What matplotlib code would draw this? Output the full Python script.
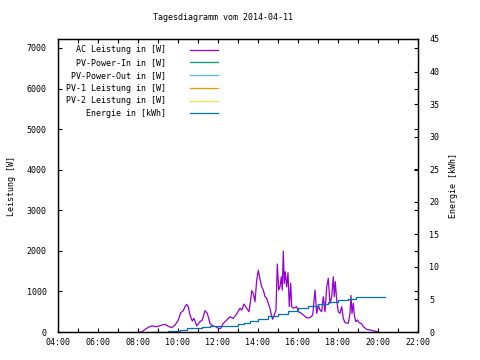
import matplotlib
matplotlib.use("Agg")
import matplotlib.pyplot as plt
from matplotlib.ticker import MultipleLocator, FuncFormatter

plt.rcParams["font.family"] = ["DejaVu Sans Mono"]
plt.rcParams["font.size"] = 6

# AC Leistung (hours of day, watts)
ac_hours = [8.015, 8.185, 8.35, 8.515, 8.685, 8.935, 9.185, 9.35, 9.515, 9.685,
            9.85, 10.015, 10.135, 10.265, 10.35, 10.435, 10.515, 10.6, 10.715, 10.8,
            10.935, 11.1, 11.215, 11.35, 11.465, 11.6, 11.735, 11.9, 12.015, 12.135,
            12.265, 12.435, 12.6, 12.765, 12.935, 13.1, 13.185, 13.3, 13.435, 13.55,
            13.635, 13.685, 13.765, 13.85, 13.935, 14.015, 14.1, 14.185, 14.265, 14.35,
            14.435, 14.515, 14.6, 14.685, 14.735, 14.815, 14.9, 14.965, 15.035, 15.1,
            15.165, 15.215, 15.265, 15.315, 15.365, 15.435, 15.5, 15.565, 15.635, 15.685,
            15.765, 15.935, 16.015, 16.135, 16.265, 16.435, 16.6, 16.735, 16.85, 16.935,
            17.015, 17.1, 17.185, 17.265, 17.35, 17.435, 17.515, 17.6, 17.685, 17.765,
            17.815, 17.865, 17.935, 18.015, 18.1, 18.185, 18.265, 18.35, 18.515, 18.6,
            18.65, 18.7, 18.765, 18.815, 18.885, 18.965, 19.065, 19.185, 19.265, 19.435,
            19.6, 19.765, 19.935, 20.015]
ac_watts = [0, 0, 65, 115, 150, 130, 170, 190, 140, 105,
            170, 295, 475, 525, 625, 680, 625, 420, 270, 335,
            150, 255, 295, 525, 460, 215, 150, 130, 90, 90,
            215, 295, 375, 335, 445, 585, 540, 690, 585, 500,
            790, 1020, 950, 745, 1280, 1520, 1300, 1115, 1035, 870,
            830, 705, 585, 375, 315, 420, 540, 1675, 1035, 1115,
            1360, 1035, 1990, 1200, 1485, 1115, 1460, 625, 1200, 625,
            585, 625, 500, 475, 420, 350, 350, 420, 1035, 460,
            665, 540, 500, 870, 500, 1115, 1320, 705, 870, 1360,
            870, 1240, 790, 500, 460, 625, 335, 230, 215, 460,
            900, 460, 705, 420, 255, 295, 230, 200, 130, 65,
            50, 30, 10, 0]

# Energie (hours of day, kWh)
energy_hours = [8.75, 9.5, 10.1, 10.45, 11.2, 11.6, 12.5, 13.0, 13.3, 13.6,
                14.0, 14.5, 15.0, 15.5, 16.0, 16.5, 17.0, 17.5, 18.0, 18.5,
                18.9, 20.35]
energy_kwh = [0.0, 0.15, 0.3, 0.55, 0.72, 0.92, 0.97, 1.2, 1.4, 1.7,
              2.0, 2.4, 2.8, 3.3, 3.7, 3.95, 4.25, 4.55, 4.85, 5.1,
              5.4, 5.45]

# series without data on this day (only shown in the legend)
pv_in_hours, pv_in_watts = [], []
pv_out_hours, pv_out_watts = [], []
pv1_hours, pv1_watts = [], []
pv2_hours, pv2_watts = [], []

fig = plt.figure(figsize=(4.8, 3.6), dpi=100)
ax = fig.add_axes([58 / 480, 1 - 332 / 360, 360 / 480, 293 / 360])
ax2 = ax.twinx()

lw = 0.9
l1, = ax.plot(ac_hours, ac_watts, color="#9400d3", lw=lw, label="AC Leistung in [W]")
l2, = ax.plot(pv_in_hours, pv_in_watts, color="#009e73", lw=lw, label="PV-Power-In in [W]")
l3, = ax.plot(pv_out_hours, pv_out_watts, color="#56b4e9", lw=lw, label="PV-Power-Out in [W]")
l4, = ax.plot(pv1_hours, pv1_watts, color="#e69f00", lw=lw, label="PV-1 Leistung in [W]")
l5, = ax.plot(pv2_hours, pv2_watts, color="#f0e442", lw=lw, label="PV-2 Leistung in [W]")
l6, = ax2.plot(energy_hours, energy_kwh, color="#0072b2", lw=lw, drawstyle="steps-post",
               label="Energie in [kWh]")

ax.set_xlim(4, 22)
ax.set_ylim(0, 7220)
ax2.set_ylim(0, 45)

ax.xaxis.set_major_locator(MultipleLocator(2))
ax.xaxis.set_minor_locator(MultipleLocator(1))
ax.xaxis.set_major_formatter(FuncFormatter(lambda v, p: "%02d:00" % int(round(v))))
ax.yaxis.set_major_locator(MultipleLocator(1000))
ax2.yaxis.set_major_locator(MultipleLocator(5))

ax.tick_params(axis="x", which="both", direction="in", length=3, width=0.8,
               top=True, pad=4)
ax.tick_params(axis="y", direction="in", length=3, width=0.8, pad=8,
               right=True, labelright=False)
ax2.tick_params(axis="y", direction="in", length=3, width=0.8, pad=8)

for a in (ax, ax2):
    for s in a.spines.values():
        s.set_linewidth(0.9)

ax.set_ylabel("Leistung [W]", labelpad=8)
ax2.set_ylabel("Energie [kWh]", rotation=90, labelpad=7)
fig.text(223 / 480, 1 - 17 / 360, "Tagesdiagramm vom 2014-04-11",
         ha="center", va="center")

ax.legend(handles=[l1, l2, l3, l4, l5, l6], loc="upper left",
          bbox_to_anchor=(0.022, 0.978), frameon=False, markerfirst=False,
          handlelength=3.4, handletextpad=2.9, labelspacing=0.45,
          borderaxespad=0.0, borderpad=0.0)

fig.savefig("out.png", dpi=100)
